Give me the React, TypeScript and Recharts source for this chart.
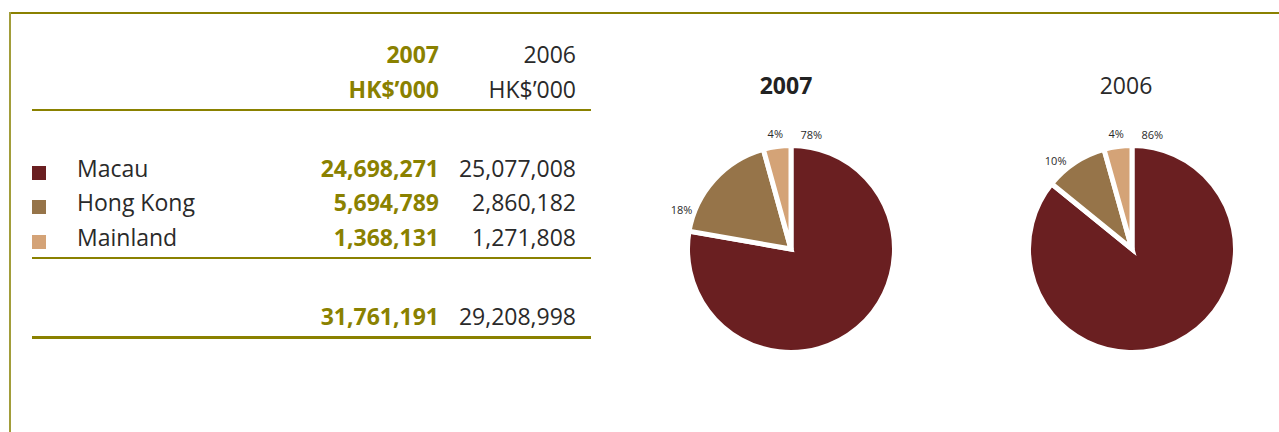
import { PieChart, Pie, Cell } from "recharts";

const regions = ["Macau", "Hong Kong", "Mainland"];
const values2007 = [24698271, 5694789, 1368131];
const values2006 = [25077008, 2860182, 1271808];
const years = ["2007", "2006"];
const sliceColors = ["#6a1f21", "#967449", "#d4a377"];

const OLIVE = "#8a8100";
const TEXT = "#2a2a2a";
const FONT = "'Open Sans', 'Noto Sans', sans-serif";
const RAD = Math.PI / 180;

const fmt = (n: number) => n.toLocaleString("en-US");
const sum = (a: number[]) => a.reduce((s, v) => s + v, 0);

const renderLabel = (props: any) => {
  const { cx, cy, startAngle, endAngle, outerRadius, percent } = props;
  const span = Math.abs(startAngle - endAngle);
  const ang = startAngle - Math.min(span / 2, 10);
  const r = outerRadius + 13;
  const x = cx + r * Math.cos(-ang * RAD);
  const y = cy + r * Math.sin(-ang * RAD);
  return (
    <text
      x={x}
      y={y}
      textAnchor="middle"
      dominantBaseline="central"
      fontSize={11}
      fontFamily={FONT}
      fill={TEXT}
    >
      {Math.round(percent * 100)}%
    </text>
  );
};

function YearPie({ values, left }: { values: number[]; left: number }) {
  const data = regions.map((name, i) => ({ name, value: values[i] }));
  return (
    <div style={{ position: "absolute", left, top: 119 }}>
      <PieChart width={260} height={260}>
        <Pie
          data={data}
          dataKey="value"
          cx="50%"
          cy="50%"
          outerRadius={103.5}
          startAngle={90}
          endAngle={-270}
          stroke="#fff"
          strokeWidth={5}
          label={renderLabel}
          labelLine={false}
          isAnimationActive={false}
        >
          {data.map((d, i) => (
            <Cell key={d.name} fill={sliceColors[i]} />
          ))}
        </Pie>
      </PieChart>
    </div>
  );
}

const cellStyle = (right: number, top: number, bold: boolean): React.CSSProperties => ({
  position: "absolute",
  right: 1279 - right,
  top,
  fontSize: 23,
  lineHeight: "28px",
  fontWeight: bold ? 700 : 400,
  color: bold ? OLIVE : TEXT,
  whiteSpace: "nowrap",
});

export default function App() {
  const rowTops = [154, 188, 223];
  return (
    <div
      style={{
        position: "absolute",
        left: 0,
        top: 0,
        width: 1279,
        height: 432,
        background: "#fff",
        fontFamily: FONT,
        overflow: "hidden",
      }}
    >
      {/* frame */}
      <div style={{ position: "absolute", left: 9, top: 12, width: 1279, height: 1.5, background: OLIVE }} />
      <div style={{ position: "absolute", left: 9, top: 12, width: 2, height: 432, background: "#a29d3a" }} />

      {/* table header */}
      <div style={cellStyle(439, 40, true)}>{years[0]}</div>
      <div style={cellStyle(576, 40, false)}>{years[1]}</div>
      <div style={cellStyle(439, 75, true)}>HK$’000</div>
      <div style={cellStyle(576, 75, false)}>HK$’000</div>
      <div style={{ position: "absolute", left: 32, top: 109, width: 559, height: 1.5, background: OLIVE }} />

      {/* rows */}
      {regions.map((name, i) => (
        <div key={name}>
          <div
            style={{
              position: "absolute",
              left: 32,
              top: rowTops[i] + 12,
              width: 14,
              height: 14,
              background: sliceColors[i],
            }}
          />
          <div
            style={{
              position: "absolute",
              left: 77,
              top: rowTops[i],
              fontSize: 23,
              lineHeight: "28px",
              color: TEXT,
            }}
          >
            {name}
          </div>
          <div style={cellStyle(439, rowTops[i], true)}>{fmt(values2007[i])}</div>
          <div style={cellStyle(576, rowTops[i], false)}>{fmt(values2006[i])}</div>
        </div>
      ))}
      <div style={{ position: "absolute", left: 32, top: 257, width: 559, height: 1.5, background: OLIVE }} />

      {/* totals */}
      <div style={cellStyle(439, 302, true)}>{fmt(sum(values2007))}</div>
      <div style={cellStyle(576, 302, false)}>{fmt(sum(values2006))}</div>
      <div style={{ position: "absolute", left: 32, top: 336, width: 559, height: 3, background: OLIVE }} />

      {/* pie titles */}
      <div
        style={{
          position: "absolute",
          left: 686,
          width: 200,
          top: 71,
          textAlign: "center",
          fontSize: 23,
          lineHeight: "28px",
          fontWeight: 700,
          color: "#222",
        }}
      >
        {years[0]}
      </div>
      <div
        style={{
          position: "absolute",
          left: 1026,
          width: 200,
          top: 71,
          textAlign: "center",
          fontSize: 23,
          lineHeight: "28px",
          color: TEXT,
        }}
      >
        {years[1]}
      </div>

      <YearPie values={values2007} left={661} />
      <YearPie values={values2006} left={1002} />
    </div>
  );
}
